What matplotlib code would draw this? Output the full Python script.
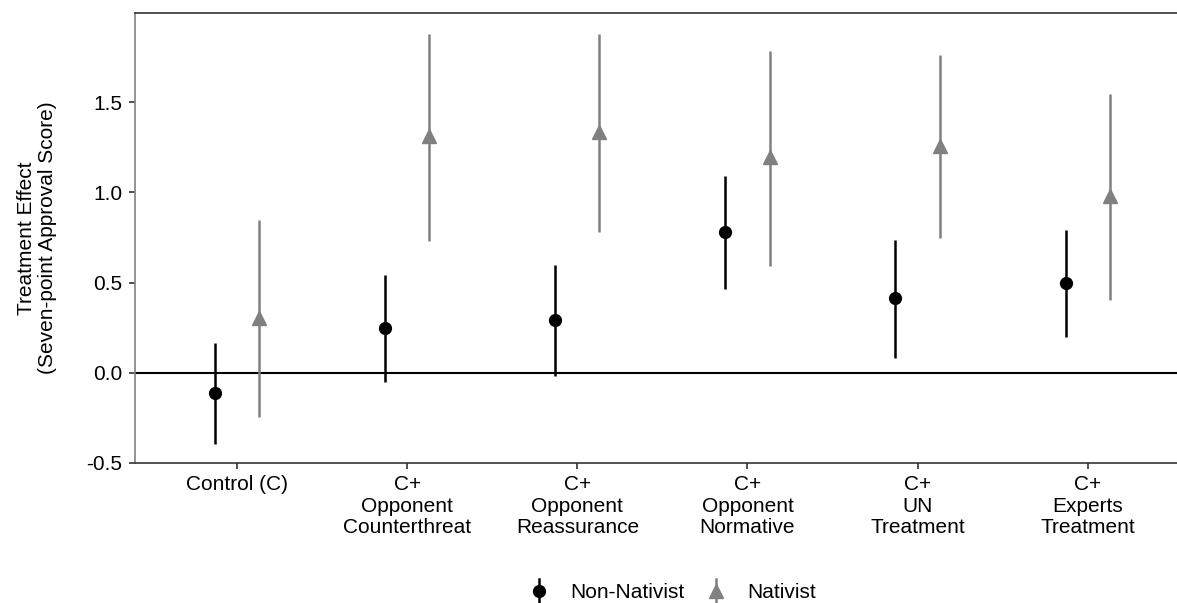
import numpy as np
import matplotlib.pyplot as plt
from matplotlib.lines import Line2D
from matplotlib.legend_handler import HandlerBase

plt.rcParams['font.family'] = ['Liberation Sans', 'DejaVu Sans']

categories = ['Control (C)', 'C+\nOpponent\nCounterthreat', 'C+\nOpponent\nReassurance',
              'C+\nOpponent\nNormative', 'C+\nUN\nTreatment', 'C+\nExperts\nTreatment']

# Non-Nativist estimates and intervals
non_est = [-0.11, 0.25, 0.295, 0.778, 0.417, 0.50]
non_lo = [-0.394, -0.05, -0.017, 0.467, 0.083, 0.20]
non_hi = [0.167, 0.544, 0.60, 1.089, 0.739, 0.794]

# Nativist estimates and intervals
nat_est = [0.306, 1.311, 1.333, 1.194, 1.256, 0.978]
nat_lo = [-0.244, 0.733, 0.778, 0.594, 0.75, 0.406]
nat_hi = [0.85, 1.878, 1.878, 1.783, 1.761, 1.544]

grey = '#808080'
x = np.arange(1, len(categories) + 1)
off = 0.13
fs = 15


class PointRangeHandler(HandlerBase):
    # vertical line with a marker on it, like ggplot's pointrange key
    def create_artists(self, legend, orig, xd, yd, width, height, fontsize, trans):
        cx = xd + width / 2
        line = Line2D([cx, cx], [yd - 0.35 * height, yd + 1.35 * height],
                      color=orig.get_color(), lw=1.8, transform=trans)
        mk = Line2D([cx], [yd + height / 2], marker=orig.get_marker(), ms=orig.get_markersize(),
                    color=orig.get_color(), ls='none', transform=trans)
        return [line, mk]


fig = plt.figure(figsize=(11.77, 6.03), dpi=100)
ax = fig.add_axes([135 / 1177, 1 - 463 / 603, 1042 / 1177, 450 / 603])

ax.axhline(0, color='black', lw=1.5, zorder=1)

ax.vlines(x - off, non_lo, non_hi, color='black', lw=1.8, zorder=2)
ax.plot(x - off, non_est, 'o', color='black', ms=8.5, zorder=3)
ax.vlines(x + off, nat_lo, nat_hi, color=grey, lw=1.8, zorder=2)
ax.plot(x + off, nat_est, '^', color=grey, ms=10, zorder=3)

ax.set_xlim(0.4, 6.525)
ax.set_ylim(-0.5, 1.995)
ax.set_xticks(x)
ax.set_xticklabels(categories, fontsize=fs, linespacing=1.15)
ax.set_yticks([-0.5, 0.0, 0.5, 1.0, 1.5])
ax.set_yticklabels(['-0.5', '0.0', '0.5', '1.0', '1.5'], fontsize=fs)
ax.tick_params(length=4, width=1.2, color='#333333', labelcolor='black', pad=5)

ax.spines['right'].set_visible(False)
ax.spines['left'].set_color(grey)
ax.spines['top'].set_color('#333333')
ax.spines['bottom'].set_color('#333333')
for s in ax.spines.values():
    s.set_linewidth(1.2)

ax.set_ylabel('Treatment Effect\n(Seven-point Approval Score)', fontsize=fs, labelpad=21,
              linespacing=1.15)

h1 = Line2D([0], [0], color='black', marker='o', ms=8.5)
h2 = Line2D([0], [0], color=grey, marker='^', ms=10)
fig.legend([h1, h2], ['Non-Nativist', 'Nativist'], loc='center', bbox_to_anchor=(0.571, 1 - 593 / 603),
           ncol=2, frameon=False, fontsize=fs, handlelength=1.0, handletextpad=1.0,
           columnspacing=1.0, handler_map={Line2D: PointRangeHandler()})

fig.savefig('out.png', dpi=100)
